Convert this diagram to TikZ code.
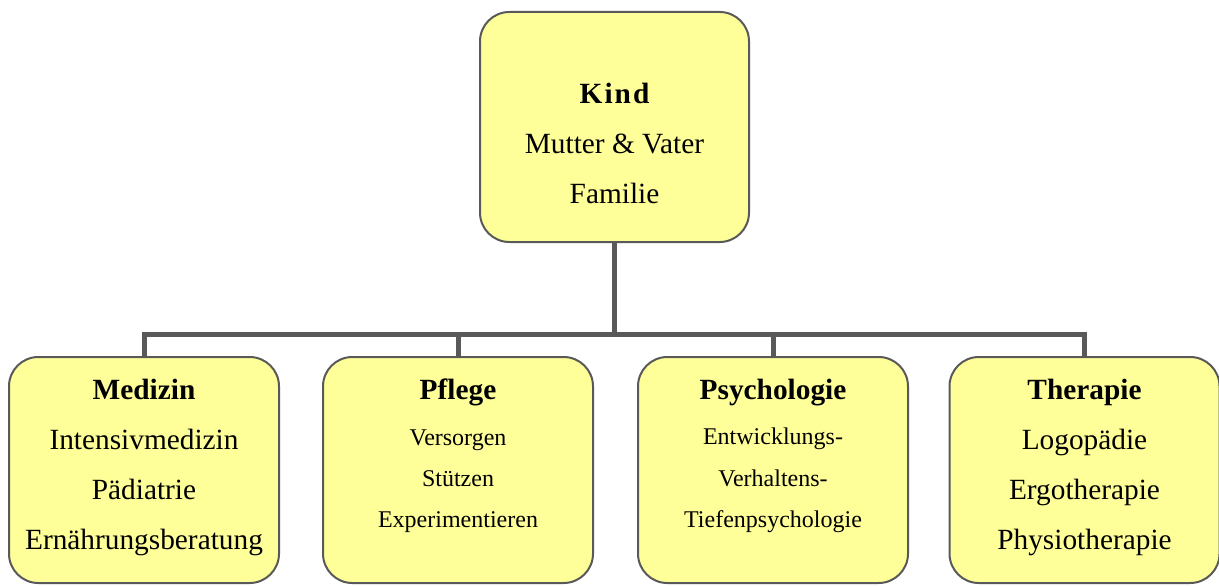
\documentclass[tikz,border=0pt]{standalone}
\usepackage{fontspec}
\setmainfont{Liberation Serif}
\usepackage{xcolor}
\usetikzlibrary{positioning}
\definecolor{boxfill}{HTML}{FFFF99}
\definecolor{boxline}{HTML}{595959}
\tikzset{
  area/.style     = {draw=boxline, line width=1.5pt, fill=boxfill,
                     rounded corners=22pt, minimum width=202.5pt,
                     minimum height=169.5pt, inner sep=0pt},
  areatext/.style = {inner sep=0pt, align=center},
  bigtext/.style  = {font=\fontsize{22}{37.5}\selectfont},
  smalltext/.style= {font=\fontsize{18}{31}\selectfont},
  conn/.style     = {draw=boxline, line width=3.75pt},
}

\begin{document}
\begin{tikzpicture}[x=0.75pt, y=-0.75pt]
\useasboundingbox (0,0) rectangle (1219,585);
% ---------- top ----------
\node[area, minimum width=201.75pt, minimum height=172.5pt] (kind) at (614.5,127) {};
\node[areatext, bigtext, below=54pt of kind.north] (kindtxt)
  {{\bfseries\addfontfeature{LetterSpace=7}Kind}\\Mutter \& Vater\\Familie};
% ---------- bottom row ----------
\node[area] (med)  at (144,470) {};
\node[area] (pfl)  at (458,470) {};
\node[area] (psy)  at (773,470) {};
\node[area] (ther) at (1084.5,470) {};
\node[areatext, bigtext, below=17.25pt of med.north] (medtxt)
  {\textbf{Medizin}\\Intensivmedizin\\P\"adiatrie\\Ern\"ahrungsberatung};
\node[areatext, smalltext, below=17.25pt of pfl.north] (pfltxt)
  {{\fontsize{22}{31}\selectfont\bfseries Pflege}\\[3pt]Versorgen\\St\"utzen\\Experimentieren};
\node[areatext, smalltext, below=17.25pt of psy.north] (psytxt)
  {{\fontsize{22}{31}\selectfont\bfseries Psychologie}\\[3pt]Entwicklungs-\\Verhaltens-\\Tiefenpsychologie};
\node[areatext, bigtext, below=17.25pt of ther.north] (thertxt)
  {\textbf{Therapie}\\Logop\"adie\\Ergotherapie\\Physiotherapie};
% ---------- connectors ----------
\coordinate (bus) at (614.5,334);
\draw[conn] (kind.south) -- (bus);
\foreach \b in {med,pfl,psy,ther}
  \draw[conn] (bus) -| (\b.north);
\end{tikzpicture}
\end{document}
